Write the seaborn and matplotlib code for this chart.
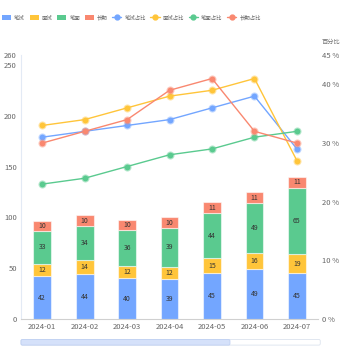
import matplotlib
matplotlib.use("Agg")
import matplotlib.pyplot as plt
import seaborn as sns
import pandas as pd
from matplotlib.patches import Patch, FancyBboxPatch
from matplotlib.lines import Line2D

months = ["2024-01", "2024-02", "2024-03", "2024-04", "2024-05", "2024-06", "2024-07"]
bishi = [42, 44, 40, 39, 45, 49, 45]
mianshi = [12, 14, 12, 12, 15, 16, 19]
bimian = [33, 34, 36, 39, 44, 49, 65]
changqi = [10, 10, 10, 10, 11, 11, 11]

bishi_pct = [31, 32, 33, 34, 36, 38, 29]
mianshi_pct = [33, 34, 36, 38, 39, 41, 27]
bimian_pct = [23, 24, 26, 28, 29, 31, 32]
changqi_pct = [30, 32, 34, 39, 41, 32, 30]

bar_names = ["笔试", "面试", "笔面", "长期"]
line_names = ["笔试占比", "面试占比", "笔面占比", "长期占比"]
colors = ["#73A6FF", "#FFC53A", "#5ACA8F", "#F98870"]

sns.set_theme(style="white")
plt.rcParams['font.family'] = ['Noto Sans CJK SC', 'DejaVu Sans']

fig = plt.figure(figsize=(3.5, 3.5), dpi=100)
ax = fig.add_axes([0.06, 0.0886, 0.849, 0.754])
ax2 = ax.twinx()

bar_series = [bishi, mianshi, bimian, changqi]
bottom = [0] * len(months)
for name, vals, col in zip(bar_names, bar_series, colors):
    df = pd.DataFrame({"month": months, "value": vals})
    sns.barplot(data=df, x="month", y="value", color=col, bottom=bottom,
                width=0.42, ax=ax, edgecolor=(1, 1, 1, 0.55), linewidth=0.8,
                saturation=1, order=months)
    cont = ax.containers[-1]
    ax.bar_label(cont, labels=[str(v) for v in vals], label_type="center",
                 fontsize=5, color="#333333")
    bottom = [b + v for b, v in zip(bottom, vals)]

line_series = [bishi_pct, mianshi_pct, bimian_pct, changqi_pct]
for name, vals, col in zip(line_names, line_series, colors):
    df = pd.DataFrame({"month": months, "pct": vals})
    sns.lineplot(data=df, x="month", y="pct", color=col, ax=ax2, linewidth=1,
                 marker="o", markersize=4.2, markeredgewidth=1.6,
                 markeredgecolor=matplotlib.colors.to_rgba(col, 0.45), sort=False)

ax.set_ylim(0, 260)
ax2.set_ylim(0, 45)
ax.set_xlim(-0.5, 6.5)
ax.set_yticks([0, 50, 100, 150, 200, 250, 260])
ax2.set_yticks([0, 10, 20, 30, 40, 45])
ax2.set_yticklabels([f"{v} %" for v in [0, 10, 20, 30, 40, 45]])
ax.set_xlabel("")
ax.set_ylabel("")
ax2.set_xlabel("")
ax2.set_ylabel("")

for a in (ax, ax2):
    a.tick_params(length=0, labelsize=5.5, colors="#666666", pad=3)
    for s in ["top", "right"]:
        a.spines[s].set_visible(False)
ax2.spines["left"].set_visible(False)
ax2.spines["bottom"].set_visible(False)
ax.spines["left"].set_color("#E3EAF5")
ax.spines["left"].set_linewidth(0.8)
ax.spines["bottom"].set_color("#D0D0D0")
ax.spines["bottom"].set_linewidth(0.8)
ax.grid(False)
ax2.grid(False)

fig.text(0.92, 0.868, "百分比", fontsize=4.5, color="#777777", ha="left", va="bottom")

handles = [Patch(facecolor=c, edgecolor="none") for c in colors] + \
          [Line2D([0], [0], color=c, lw=1, marker="o", markersize=3.5) for c in colors]
labels = bar_names + line_names
fig.legend(handles, labels, loc="center left", bbox_to_anchor=(-0.005, 0.949), ncol=8,
           frameon=False, fontsize=3.9, handlelength=1.7, handleheight=1.1,
           handletextpad=0.55, columnspacing=0.85, labelcolor="#666666",
           borderpad=0.2)

# data zoom slider
fig.patches.append(FancyBboxPatch((0.06, 0.014), 0.855, 0.016,
                                  boxstyle="round,pad=0,rounding_size=0.004",
                                  transform=fig.transFigure, facecolor="white",
                                  edgecolor="#DCE3EE", linewidth=0.6))
fig.patches.append(FancyBboxPatch((0.06, 0.014), 0.597, 0.016,
                                  boxstyle="round,pad=0,rounding_size=0.004",
                                  transform=fig.transFigure, facecolor="#D5E1FA",
                                  edgecolor="#BFD0F2", linewidth=0.6))

fig.savefig("out.png", dpi=100)
